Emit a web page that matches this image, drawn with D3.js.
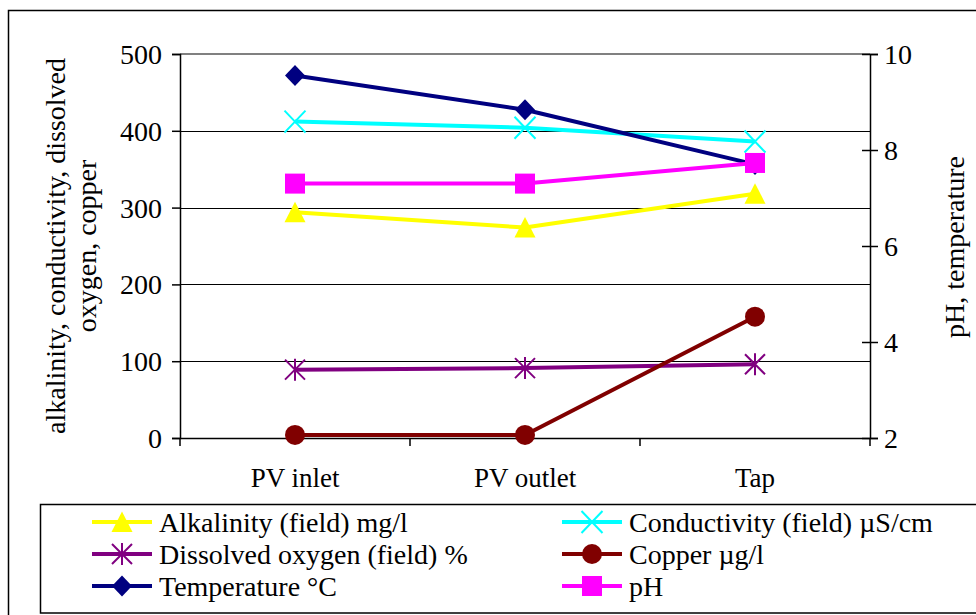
<!DOCTYPE html>
<html>
<head>
<meta charset="utf-8">
<script src="https://cdn.jsdelivr.net/npm/d3@7"></script>
<style>
  html, body { margin: 0; padding: 0; background: #fff; }
</style>
</head>
<body>
<svg id="chart" width="976" height="615"></svg>
<script>
// Sampling sites along the pipe
const sites = ["PV inlet", "PV outlet", "Tap"];

// Primary-axis series
const alkalinity = [294, 274, 318];      // mg/l
const conductivity = [412, 404, 386];    // µS/cm
const dissolvedOxygen = [89, 91, 96];    // %
const copper = [4, 4, 158];              // µg/l

// Secondary-axis series
const temperature = [9.55, 8.84, 7.7];   // °C
const pH = [7.3, 7.3, 7.73];

// Axis ticks
const leftTicks = [0, 100, 200, 300, 400, 500];
const rightTicks = [2, 4, 6, 8, 10];

const leftTitle = ["alkalinity, conductivity, dissolved", "oxygen, copper"];
const rightTitle = "pH, temperature";

const FONT = "'Liberation Serif', 'Times New Roman', Times, serif";

const series = [
  { name: "Alkalinity (field) mg/l", values: alkalinity, axis: "left", color: "#FFFF00", marker: "triangle" },
  { name: "Conductivity (field) \u00B5S/cm", values: conductivity, axis: "left", color: "#00FFFF", marker: "cross" },
  { name: "Dissolved oxygen (field) %", values: dissolvedOxygen, axis: "left", color: "#800080", marker: "asterisk" },
  { name: "Copper \u00B5g/l", values: copper, axis: "left", color: "#800000", marker: "circle" },
  { name: "Temperature \u00B0C", values: temperature, axis: "right", color: "#000080", marker: "diamond" },
  { name: "pH", values: pH, axis: "right", color: "#FF00FF", marker: "square" }
];

const svg = d3.select("#chart").style("font-family", FONT);
const plot = { left: 180, right: 870, top: 54, bottom: 438 };

// Outer chart frame
svg.append("rect")
  .attr("x", 8.5).attr("y", 10.5)
  .attr("width", 1000).attr("height", 700)
  .attr("fill", "none").attr("stroke", "#000").attr("stroke-width", 1.5);

const x = d3.scaleBand().domain(sites).range([plot.left, plot.right]);
const yL = d3.scaleLinear().domain([0, 500]).range([plot.bottom, plot.top]);
const yR = d3.scaleLinear().domain([2, 10]).range([plot.bottom, plot.top]);

// Horizontal gridlines
svg.append("g").selectAll("line")
  .data(leftTicks.filter(d => d > 0 && d < 500))
  .join("line")
  .attr("x1", plot.left).attr("x2", plot.right)
  .attr("y1", d => Math.round(yL(d)) + 0.5).attr("y2", d => Math.round(yL(d)) + 0.5)
  .attr("stroke", "#000").attr("stroke-width", 1);

// Plot-area top edge
svg.append("line")
  .attr("x1", plot.left).attr("x2", plot.right)
  .attr("y1", plot.top).attr("y2", plot.top)
  .attr("stroke", "#808080").attr("stroke-width", 2);

// Left axis
const leftAxis = svg.append("g")
  .attr("transform", `translate(${plot.left},0)`)
  .call(d3.axisLeft(yL).tickValues(leftTicks).tickSize(8).tickPadding(10));
leftAxis.selectAll("text").style("font-size", "28px").attr("dy", "0.34em");

// Right axis (ticks cross the line)
const rightAxis = svg.append("g")
  .attr("transform", `translate(${plot.right},0)`)
  .call(d3.axisRight(yR).tickValues(rightTicks).tickSize(8).tickPadding(6));
rightAxis.selectAll(".tick line").attr("x1", -8);
rightAxis.selectAll("text").style("font-size", "28px").attr("dy", "0.34em");

// Category axis with ticks between categories
const bottomAxis = svg.append("g")
  .attr("transform", `translate(0,${plot.bottom})`)
  .call(d3.axisBottom(x).tickSize(0).tickPadding(30));
bottomAxis.selectAll("text").style("font-size", "27px");
const bounds = sites.map(s => x(s)).concat([x(sites[sites.length - 1]) + x.bandwidth()]);
bottomAxis.selectAll(".divider")
  .data(bounds).join("line")
  .attr("class", "divider")
  .attr("x1", d => d).attr("x2", d => d)
  .attr("y1", 0).attr("y2", 8)
  .attr("stroke", "#000").attr("stroke-width", 1.5);

[leftAxis, rightAxis, bottomAxis].forEach(g => {
  g.select(".domain").attr("stroke", "#000").attr("stroke-width", 1.5);
  g.selectAll(".tick line").attr("stroke", "#000").attr("stroke-width", 1.5);
  g.attr("font-family", null).attr("font-size", null);
  g.selectAll("text").style("font-family", FONT).attr("fill", "#000");
});

// Axis titles
const lt = svg.append("text")
  .attr("transform", "translate(55,246) rotate(-90)")
  .attr("text-anchor", "middle")
  .style("font-family", FONT)
  .style("font-size", "28px");
lt.selectAll("tspan").data(leftTitle).join("tspan")
  .attr("x", 0)
  .attr("y", (d, i) => i * 31)
  .attr("dominant-baseline", "central")
  .text(d => d);

svg.append("text")
  .attr("transform", "translate(954,247) rotate(-90)")
  .attr("text-anchor", "middle")
  .attr("dominant-baseline", "central")
  .style("font-family", FONT)
  .style("font-size", "28px")
  .text(rightTitle);

// Marker shapes
function drawMarker(g, type, color) {
  switch (type) {
    case "triangle":
      g.append("path").attr("d", "M0,-10.5L10.5,10L-10.5,10Z").attr("fill", color);
      break;
    case "cross":
      g.append("path").attr("d", "M-10.5,-11L10.5,11M-10.5,11L10.5,-11")
        .attr("stroke", color).attr("stroke-width", 2).attr("fill", "none");
      break;
    case "asterisk":
      g.append("path").attr("d", "M-10,-10L10,10M-10,10L10,-10M0,-11L0,11")
        .attr("stroke", color).attr("stroke-width", 2).attr("fill", "none");
      break;
    case "circle":
      g.append("circle").attr("r", 10).attr("fill", color);
      break;
    case "diamond":
      g.append("path").attr("d", "M0,-10.5L10,0L0,10.5L-10,0Z").attr("fill", color);
      break;
    case "square":
      g.append("rect").attr("x", -10).attr("y", -10).attr("width", 20).attr("height", 20).attr("fill", color);
      break;
  }
}

// Series lines and markers
const cx = s => x(s) + x.bandwidth() / 2;
series.forEach(s => {
  const yScale = s.axis === "left" ? yL : yR;
  const line = d3.line().x((d, i) => cx(sites[i])).y(d => yScale(d));
  svg.append("path")
    .datum(s.values)
    .attr("d", line)
    .attr("fill", "none")
    .attr("stroke", s.color)
    .attr("stroke-width", 4)
    .attr("stroke-linejoin", "round");
  s.values.forEach((v, i) => {
    const g = svg.append("g").attr("transform", `translate(${cx(sites[i])},${yScale(v)})`);
    drawMarker(g, s.marker, s.color);
  });
});

// Legend
svg.append("rect")
  .attr("x", 40.5).attr("y", 504.5)
  .attr("width", 1000).attr("height", 108.5)
  .attr("fill", "#fff").attr("stroke", "#000").attr("stroke-width", 1.5);

const legendCols = [92, 562];
const legendRows = [522, 554, 586];
series.forEach((s, i) => {
  const lx = legendCols[i % 2];
  const ly = legendRows[Math.floor(i / 2)];
  const g = svg.append("g").attr("transform", `translate(${lx},${ly})`);
  g.append("line").attr("x1", 0).attr("x2", 60).attr("y1", 0).attr("y2", 0)
    .attr("stroke", s.color).attr("stroke-width", 4);
  drawMarker(g.append("g").attr("transform", "translate(30,0)"), s.marker, s.color);
  g.append("text")
    .attr("x", 67).attr("y", 0)
    .attr("dominant-baseline", "central")
    .style("font-family", FONT)
    .style("font-size", "28px")
    .text(s.name);
});
</script>
</body>
</html>
